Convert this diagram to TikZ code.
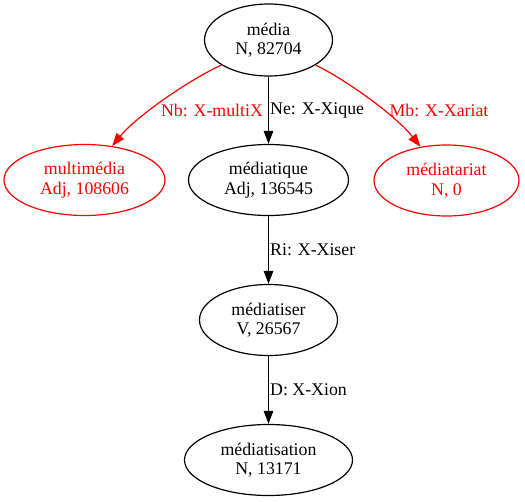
\documentclass[tikz,border=0pt]{standalone}
\usepackage{fontspec}
\setmainfont{Liberation Serif}
\usetikzlibrary{shapes.geometric,arrows.meta}
\begin{document}
\begin{tikzpicture}[x=1pt,y=-1pt,
  lex/.style={ellipse,draw,line width=1.2pt,inner sep=0pt,align=center,
    font=\fontsize{17.8}{19.5}\selectfont},
  lbl/.style={inner sep=0pt,font=\fontsize{17.8}{19.5}\selectfont},
  edge/.style={line width=1.2pt,-{Triangle[length=13pt,width=9.5pt]}},
  redc/.style={red,text=red}]
\useasboundingbox (0,0) rectangle (525,501);
\node[lex,minimum width=128pt,minimum height=72pt] (media) at (268.5,40) {média\\N, 82704};
\node[lex,redc,minimum width=161pt,minimum height=71pt] (multi) at (84.5,180) {multimédia\\Adj, 108606};
\node[lex,minimum width=160pt,minimum height=71pt] (mediq) at (268.5,180) {médiatique\\Adj, 136545};
\node[lex,redc,minimum width=145pt,minimum height=71pt] (mediat) at (446.5,180.5) {médiatariat\\N, 0};
\node[lex,minimum width=138pt,minimum height=71pt] (medis) at (268.5,320) {médiatiser\\V, 26567};
\node[lex,minimum width=168pt,minimum height=71pt] (medisa) at (268.5,460) {médiatisation\\N, 13171};

\draw[edge,red] (media.208) .. controls (185,82) and (135,118) .. (multi);
\draw[edge,red] (media.-28) .. controls (350,82) and (398,118) .. (mediat);
\draw[edge] (media) -- (mediq);
\draw[edge] (mediq) -- (medis);
\draw[edge] (medis) -- (medisa);

\node[lbl,red] (l1) at (212,110) {Nb: X-multiX};
\node[lbl,anchor=west] (l2) at (270,110) {Ne: X-Xique};
\node[lbl,red] (l3) at (439,110) {Mb: X-Xariat};
\node[lbl,anchor=west] (l4) at (270,250) {Ri: X-Xiser};
\node[lbl,anchor=west] (l5) at (270,390) {D: X-Xion};
\end{tikzpicture}
\end{document}
